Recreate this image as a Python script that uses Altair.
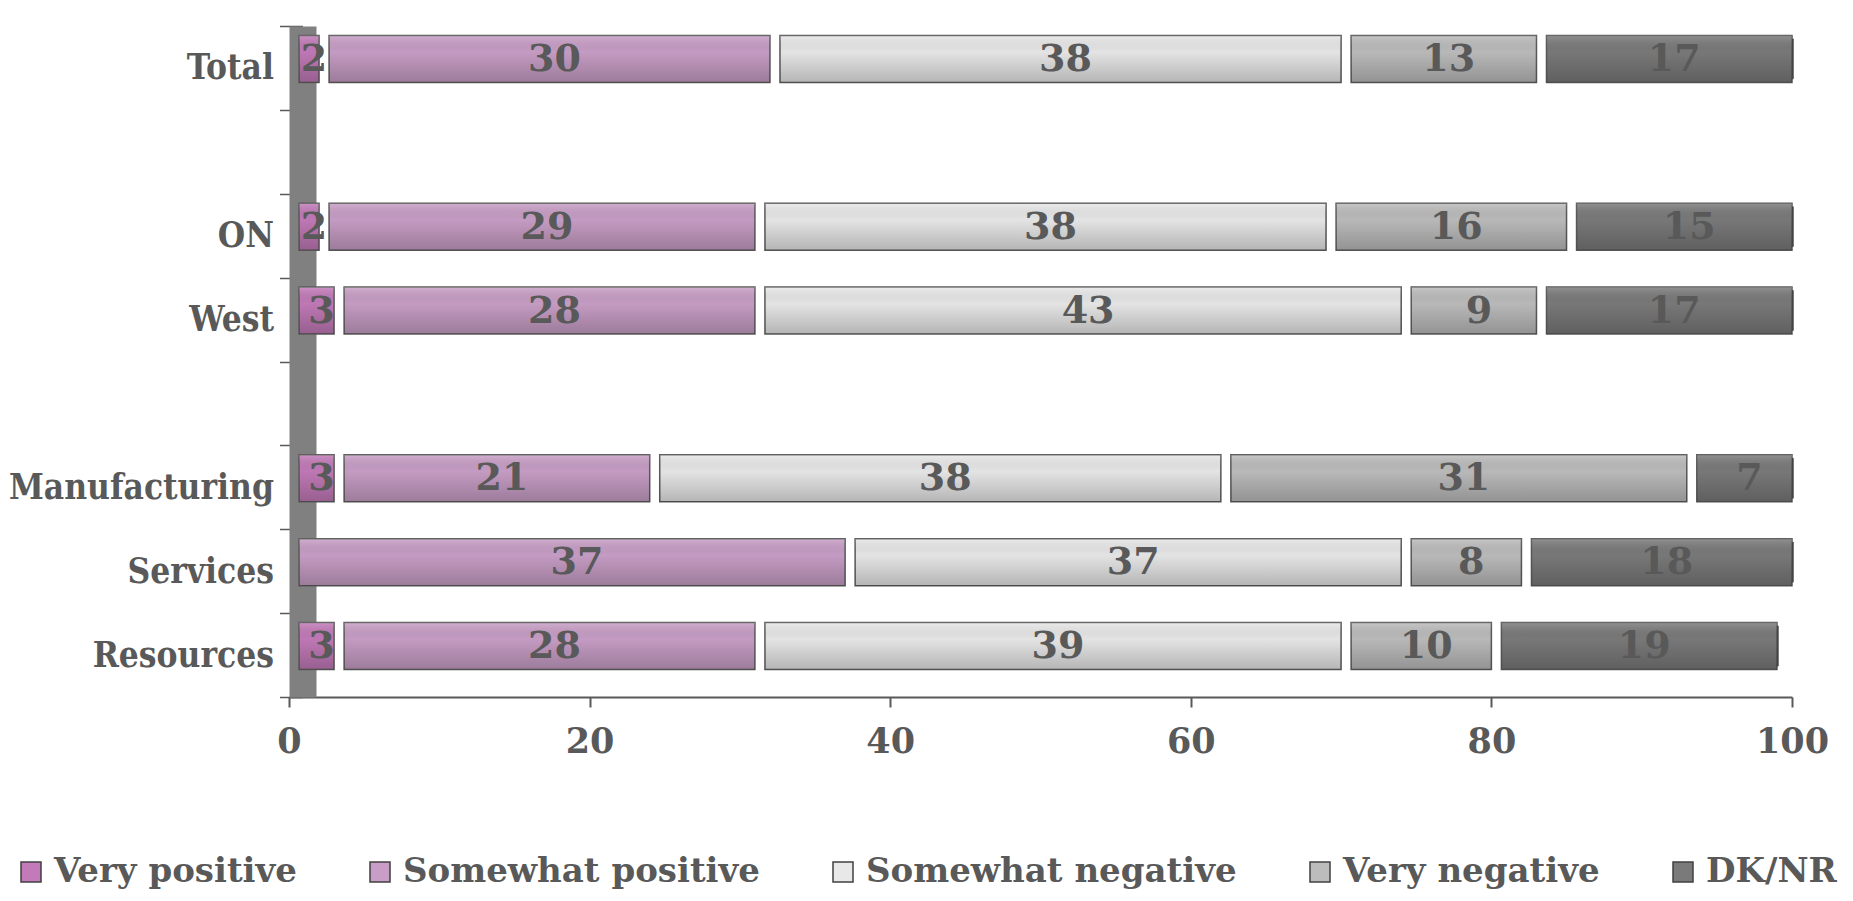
import altair as alt
import pandas as pd

categories = ["Total", "ON", "West", "Manufacturing", "Services", "Resources"]
row_order = ["Total", " ", "ON", "West", "  ", "Manufacturing", "Services", "Resources"]
series = ["Very positive", "Somewhat positive", "Somewhat negative", "Very negative", "DK/NR"]
very_positive = [2, 2, 3, 3, 0, 3]
somewhat_positive = [30, 29, 28, 21, 37, 28]
somewhat_negative = [38, 38, 43, 38, 37, 39]
very_negative = [13, 16, 9, 31, 8, 10]
dk_nr = [17, 15, 17, 7, 18, 19]
colors = ["#c27ab8", "#c89ec6", "#e8e8e8", "#bcbcbc", "#7a7a7a"]
x_ticks = [0, 20, 40, 60, 80, 100]

rows = []
for s_i, (s, vals) in enumerate(zip(series, [very_positive, somewhat_positive, somewhat_negative, very_negative, dk_nr])):
    for c, v in zip(categories, vals):
        rows.append({"category": c, "series": s, "order": s_i, "value": v})
df = pd.DataFrame(rows)

FONT = "DejaVu Serif"
FONT_C = "DejaVu Serif Condensed"
TXT = "#595959"

base = alt.Chart(df).transform_stack(
    stack="value", groupby=["category"], as_=["x0", "x1"],
    sort=[alt.SortField("order", order="ascending")]
).transform_calculate(mid="(datum.x0 + datum.x1) / 2").transform_filter("datum.value > 0")

xscale = alt.Scale(domain=[0, 100], nice=False, zero=True)
yscale = alt.Scale(domain=row_order, paddingInner=0, paddingOuter=0)
BAR_H = 47

bars = base.mark_bar(stroke="#595959", strokeWidth=1.5, xOffset=10, yOffset=-9, height=BAR_H).encode(
    x=alt.X("x0:Q", scale=xscale,
            axis=alt.Axis(values=x_ticks, title=None, grid=False, domainColor=TXT, domainWidth=2,
                          tickColor=TXT, tickWidth=2, tickSize=10, labelFont=FONT, labelFontWeight="bold",
                          labelFontSize=35, labelColor=TXT, labelPadding=17, labelFlush=False)),
    x2="x1:Q",
    y=alt.Y("category:N", scale=yscale, sort=row_order,
            axis=alt.Axis(title=None, domainWidth=27, domainColor="#808080", offset=-13.5, tickSize=23,
                          tickColor=TXT, tickWidth=1.5, tickBand="extent", labelFont=FONT_C,
                          labelFontWeight="bold", labelFontSize=35, labelColor=TXT, labelPadding=6,
                          labelLimit=0)),
    color=alt.Color("series:N", scale=alt.Scale(domain=series, range=colors),
                    legend=alt.Legend(orient="none", legendX=-275, legendY=829, direction="horizontal",
                                      title=None, symbolType="square", symbolSize=400,
                                      symbolStrokeColor="#404040", symbolStrokeWidth=1.5,
                                      labelFont=FONT, labelFontWeight="bold", labelFontSize=34,
                                      labelColor=TXT, columnPadding=66, labelOffset=6, labelLimit=0)),
)

shine = base.mark_bar(
    xOffset=10, yOffset=-9, height=BAR_H,
    fill=alt.Gradient(gradient="linear", x1=0, x2=0, y1=0, y2=1,
                      stops=[alt.GradientStop(color="rgba(255,255,255,0.18)", offset=0),
                             alt.GradientStop(color="rgba(0,0,0,0.02)", offset=0.35),
                             alt.GradientStop(color="rgba(0,0,0,0.22)", offset=1)])
).encode(x=alt.X("x0:Q", scale=xscale), x2="x1:Q", y=alt.Y("category:N", scale=yscale, sort=row_order))

caps = base.transform_filter(alt.datum.series == "DK/NR").transform_calculate(
    cap0="datum.x1 - 0.55"
).mark_bar(color="#444444", cornerRadius=4, xOffset=10, yOffset=-9, height=BAR_H - 6).encode(
    x=alt.X("cap0:Q", scale=xscale), x2="x1:Q", y=alt.Y("category:N", scale=yscale, sort=row_order)
)

labels = base.mark_text(
    font=FONT, fontWeight="bold", fontSize=38, color=TXT, xOffset=10, yOffset=-8,
    align="center", baseline="middle"
).encode(x=alt.X("mid:Q", scale=xscale), y=alt.Y("category:N", scale=yscale, sort=row_order),
         text="value:Q")

chart = alt.layer(bars, shine, caps, labels).properties(
    width=1503, height=671,
    autosize=alt.AutoSizeParams(type="none"),
    padding={"left": 281, "top": 18, "right": 50, "bottom": 196},
    background="white",
).configure_view(stroke=None)

chart.save("out.html", embed_options={"renderer": "svg", "actions": False})
